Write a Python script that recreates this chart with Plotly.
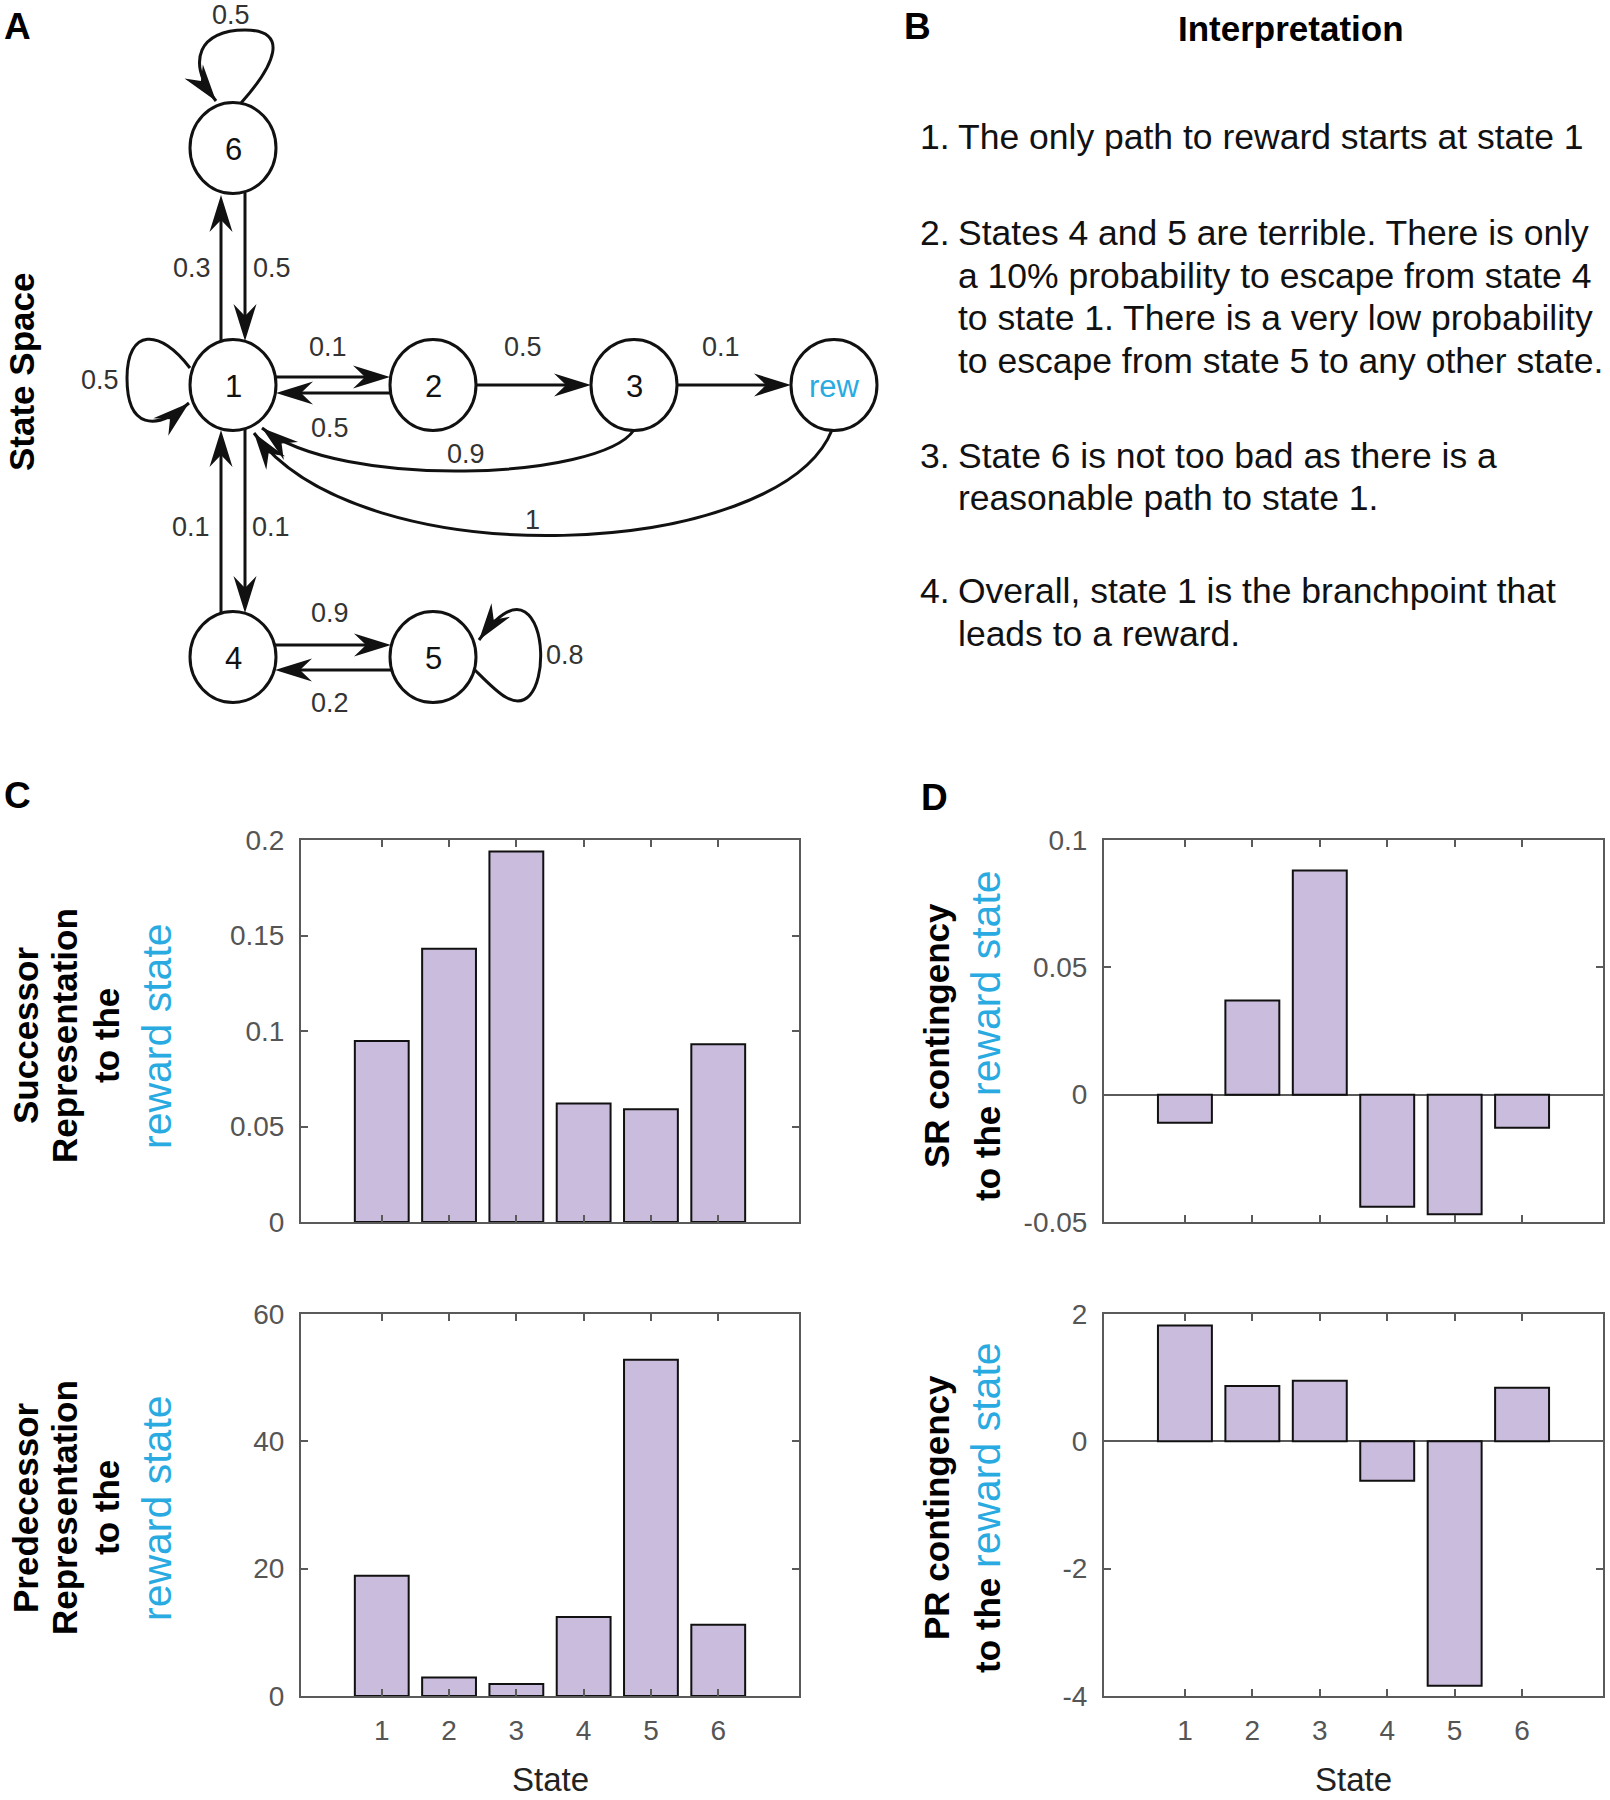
import numpy as np
import plotly.graph_objects as go

# ---------------- data ----------------
states = [1, 2, 3, 4, 5, 6]
state_ticktext = ["1", "2", "3", "4", "5", "6"]

sr_values = [0.0947, 0.1430, 0.1940, 0.0620, 0.0590, 0.0930]
pr_values = [18.9, 2.9, 1.9, 12.4, 52.8, 11.2]
sr_contingency = [-0.011, 0.037, 0.088, -0.044, -0.047, -0.013]
pr_contingency = [1.82, 0.87, 0.95, -0.62, -3.84, 0.84]

sr_ticks = [0, 0.05, 0.1, 0.15, 0.2]
sr_ticktext = ["0", "0.05", "0.1", "0.15", "0.2"]
pr_ticks = [0, 20, 40, 60]
pr_ticktext = ["0", "20", "40", "60"]
src_ticks = [-0.05, 0, 0.05, 0.1]
src_ticktext = ["-0.05", "0", "0.05", "0.1"]
prc_ticks = [-4, -2, 0, 2]
prc_ticktext = ["-4", "-2", "0", "2"]

node_names = ["1", "2", "3", "rew", "4", "5", "6"]
# transitions (source, target, probability)
edges = [("1", "6", 0.3), ("6", "1", 0.5), ("6", "6", 0.5), ("1", "1", 0.5),
         ("1", "2", 0.1), ("2", "1", 0.5), ("2", "3", 0.5), ("3", "rew", 0.1),
         ("3", "1", 0.9), ("rew", "1", 1), ("1", "4", 0.1), ("4", "1", 0.1),
         ("4", "5", 0.9), ("5", "4", 0.2), ("5", "5", 0.8)]

interpretation = [
    ("1.", "The only path to reward starts at state 1"),
    ("2.", "States 4 and 5 are terrible. There is only"),
    ("", "a 10% probability to escape from state 4"),
    ("", "to state 1. There is a very low probability"),
    ("", "to escape from state 5 to any other state."),
    ("3.", "State 6 is not too bad as there is a"),
    ("", "reasonable path to state 1."),
    ("4.", "Overall, state 1 is the branchpoint that"),
    ("", "leads to a reward."),
]

# ---------------- layout / style ----------------
W, H = 1610, 1800
BLUE = "#29ABE2"
BAR_FILL = "#C9BCDC"
AX = "#5a5a5a"
TICKC = "#555555"
FONT = "Liberation Sans, Arial, Helvetica, sans-serif"

def dx(a, b):
    return [a / W, b / W]

def dy(top, bottom):
    return [1 - bottom / H, 1 - top / H]

fig = go.Figure()

panels = [
    ("x", "y", sr_values),
    ("x2", "y2", pr_values),
    ("x3", "y3", sr_contingency),
    ("x4", "y4", pr_contingency),
]
for xa, ya, vals in panels:
    fig.add_trace(go.Bar(
        x=states, y=vals, xaxis=xa, yaxis=ya, width=0.8,
        marker=dict(color=BAR_FILL, line=dict(color="#111111", width=2)),
        showlegend=False, hoverinfo="skip"))

def xax(domain, anchor, labels):
    return dict(domain=domain, anchor=anchor, range=[-0.2, 7.2],
                tickmode="array", tickvals=states, ticktext=state_ticktext,
                showticklabels=labels, ticks="inside", ticklen=7, tickwidth=1.5,
                tickcolor=AX, showline=True, linecolor=AX, linewidth=2,
                mirror="ticks", showgrid=False, zeroline=False, fixedrange=True,
                ticklabelstandoff=8, automargin=False,
                tickfont=dict(family=FONT, size=28, color=TICKC))

def yax(domain, anchor, rng, tv, tt, zl):
    return dict(domain=domain, anchor=anchor, range=rng, tickmode="array",
                tickvals=tv, ticktext=tt, ticks="inside", ticklen=7,
                tickwidth=1.5, tickcolor=AX, showline=True, linecolor=AX,
                linewidth=2, mirror="ticks", showgrid=False, zeroline=zl,
                zerolinecolor=AX, zerolinewidth=1.5, fixedrange=True,
                ticklabelstandoff=9, automargin=False,
                tickfont=dict(family=FONT, size=28, color=TICKC))

CX = (301, 799)
DX = (1104, 1603)
TOPY = (840, 1222)
BOTY = (1314, 1696)

fig.update_layout(
    width=W, height=H,
    margin=dict(l=0, r=0, t=0, b=0, pad=0, autoexpand=False),
    paper_bgcolor="white", plot_bgcolor="rgba(0,0,0,0)",
    bargap=0.2, showlegend=False,
    xaxis=xax(dx(*CX), "y", False),
    yaxis=yax(dy(*TOPY), "x", [0, 0.2], sr_ticks, sr_ticktext, False),
    xaxis2=xax(dx(*CX), "y2", True),
    yaxis2=yax(dy(*BOTY), "x2", [0, 60], pr_ticks, pr_ticktext, False),
    xaxis3=xax(dx(*DX), "y3", False),
    yaxis3=yax(dy(*TOPY), "x3", [-0.05, 0.1], src_ticks, src_ticktext, True),
    xaxis4=xax(dx(*DX), "y4", True),
    yaxis4=yax(dy(*BOTY), "x4", [-4, 2], prc_ticks, prc_ticktext, True),
    # invisible pixel-space axis for the diagram and text
    xaxis5=dict(domain=[0, 1], anchor="y5", range=[0, W], visible=False,
                fixedrange=True, automargin=False),
    yaxis5=dict(domain=[0, 1], anchor="x5", range=[H, 0], visible=False,
                fixedrange=True, automargin=False),
)

shapes = []
annotations = []

def ann(x, y, text, size, color="black", xanchor="center", angle=0,
        bold=False):
    if bold:
        text = "<b>" + text + "</b>"
    annotations.append(dict(
        x=x, y=y, xref="x5", yref="y5", text=text, showarrow=False,
        xanchor=xanchor, yanchor="middle", textangle=angle,
        font=dict(family=FONT, size=size, color=color)))

# ---------------- state diagram ----------------
node_pos = {"1": (233, 385), "2": (433, 385), "3": (634, 385),
            "rew": (834, 385), "4": (233, 657), "5": (433, 657),
            "6": (233, 148)}
RX, RY = 43, 45.5

geom = {
    ("1", "6"): dict(pts=[(221, 341), (221, 195)], lab=(192, 268)),
    ("6", "1"): dict(pts=[(245, 193), (245, 341)], lab=(272, 268)),
    ("1", "4"): dict(pts=[(245, 429), (245, 613)], lab=(271, 527)),
    ("4", "1"): dict(pts=[(221, 613), (221, 430)], lab=(191, 527)),
    ("1", "2"): dict(pts=[(275, 377), (390, 377)], lab=(328, 347)),
    ("2", "1"): dict(pts=[(391, 393), (276, 393)], lab=(330, 428)),
    ("2", "3"): dict(pts=[(476, 385), (591, 385)], lab=(523, 347)),
    ("3", "rew"): dict(pts=[(677, 385), (791, 385)], lab=(721, 347)),
    ("4", "5"): dict(pts=[(275, 645), (391, 645)], lab=(330, 613)),
    ("5", "4"): dict(pts=[(391, 670), (275, 670)], lab=(330, 703)),
    ("3", "1"): dict(pts=[(634, 430), (600, 480), (340, 490), (262, 428)],
                     lab=(466, 454)),
    ("rew", "1"): dict(pts=[(832, 430), (780, 560), (360, 580), (254, 433)],
                       lab=(532, 520)),
    ("1", "1"): dict(pts=[(190, 368), (160, 328), (127, 328), (127, 378),
                          (127, 428), (155, 432), (189, 403)], lab=(100, 380)),
    ("6", "6"): dict(pts=[(241, 103), (275, 65), (290, 30), (245, 30),
                          (200, 30), (185, 60), (216, 101)], lab=(231, 15)),
    ("5", "5"): dict(pts=[(475, 670), (495, 690), (515, 712), (530, 695),
                          (545, 678), (545, 625), (525, 612), (512, 604),
                          (495, 618), (479, 640)], lab=(565, 655)),
}

HL, HW, HN = 37, 11.5, 25

def fmt(p):
    return f"{p[0]:.2f},{p[1]:.2f}"

# nodes
for name in node_names:
    cx, cy = node_pos[name]
    shapes.append(dict(type="circle", xref="x5", yref="y5",
                       x0=cx - RX, x1=cx + RX, y0=cy - RY, y1=cy + RY,
                       fillcolor="white", line=dict(color="#111111", width=3),
                       layer="above"))
    ann(cx, cy + 1, name, 31, color=BLUE if name == "rew" else "#111111")

# edges
for src, dst, prob in edges:
    g = geom[(src, dst)]
    pts = [np.array(p, dtype=float) for p in g["pts"]]
    tip = pts[-1]
    d = tip - pts[-2]
    d = d / np.linalg.norm(d)
    n = np.array([-d[1], d[0]])
    notch = tip - d * HN
    if len(pts) == 2:
        path = f"M {fmt(pts[0])} L {fmt(notch)}"
    else:
        path = f"M {fmt(pts[0])}"
        for i in range(1, len(pts), 3):
            path += f" C {fmt(pts[i])} {fmt(pts[i + 1])} {fmt(pts[i + 2])}"
    shapes.append(dict(type="path", xref="x5", yref="y5", path=path,
                       line=dict(color="#111111", width=3), layer="above"))
    back = tip - d * HL
    c1 = back + n * HW
    c2 = back - n * HW
    head = f"M {fmt(tip)} L {fmt(c1)} L {fmt(notch)} L {fmt(c2)} Z"
    shapes.append(dict(type="path", xref="x5", yref="y5", path=head,
                       fillcolor="#111111", line=dict(width=0), layer="above"))
    lx, ly = g["lab"]
    ann(lx, ly, f"{prob:g}", 27, color="#333333")

# ---------------- panel letters & titles ----------------
ann(17, 26, "A", 37, bold=True)
ann(917, 26, "B", 37, bold=True)
ann(17, 795, "C", 37, bold=True)
ann(934, 797, "D", 37, bold=True)
ann(1291, 28, "Interpretation", 35, bold=True)
ann(21, 372, "State Space", 35, angle=-90, bold=True)

# interpretation text
line_y = [137, 233, 276, 318, 361, 456, 498, 591, 634]
for (num, txt), yv in zip(interpretation, line_y):
    if num:
        ann(918, yv, num, 35.5, color="#111111", xanchor="left")
    ann(956, yv, txt, 35.5, color="#111111", xanchor="left")

# y-axis titles of C
cy_top = (TOPY[0] + TOPY[1]) / 2 + 5
cy_bot = (BOTY[0] + BOTY[1]) / 2 + 3
for cyv, first in [(cy_top, "Successor"), (cy_bot, "Predecessor")]:
    ann(25, cyv, first, 35, angle=-90, bold=True)
    ann(64, cyv, "Representation", 35, angle=-90, bold=True)
    ann(106, cyv, "to the", 35, angle=-90, bold=True)
    ann(157, cyv, "reward state", 41, color=BLUE, angle=-90)

# y-axis titles of D
for cyv, first in [(cy_top, "SR contingency"), (cy_bot, "PR contingency")]:
    ann(936, cyv, first, 35, angle=-90, bold=True)
    ann(986, cyv,
        f"<b>to the</b> <span style='color:{BLUE};font-size:41px'>reward state</span>",
        35, angle=-90)

# x-axis titles
ann((CX[0] + CX[1]) / 2, 1779, "State", 33, color="#222222")
ann((DX[0] + DX[1]) / 2, 1779, "State", 33, color="#222222")

fig.update_layout(shapes=shapes, annotations=annotations)

fig.write_html("out.html", include_plotlyjs=True,
               config={"displayModeBar": False},
               post_script="document.body.style.margin='0px';")
